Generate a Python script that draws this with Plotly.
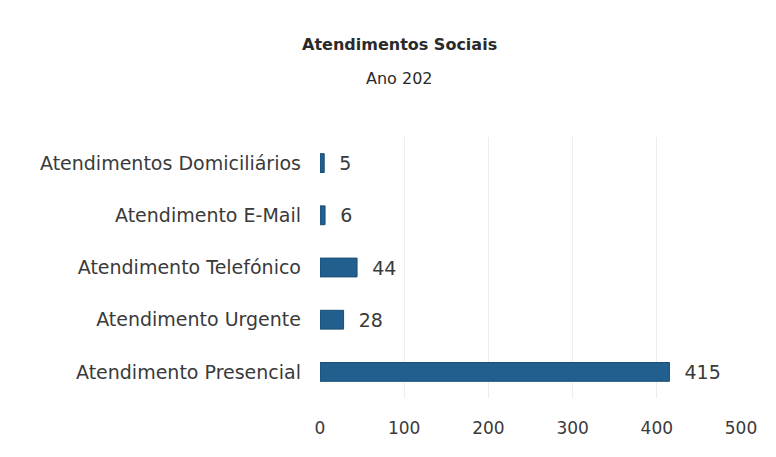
import plotly.graph_objects as go

categories = ["Atendimento Presencial", "Atendimento Urgente", "Atendimento Telefónico",
              "Atendimento E-Mail", "Atendimentos Domiciliários"]
values = [415, 28, 44, 6, 5]
x_ticks = [0, 100, 200, 300, 400, 500]

FONT = "DejaVu Sans"
TXT = "#3a3a3a"
BAR = "#21608e"

W, H = 776, 457
# page body has an 8px margin; plot area targets: x 320..741, y 137..398 on screen
L, T = 312, 129
R = W - (741 - 8)
B = H - (398 - 8)

fig = go.Figure(go.Bar(
    y=categories, x=values, orientation="h",
    marker=dict(color=BAR, line=dict(color="#1b4d72", width=1)),
    width=0.36,
    text=[str(v) for v in values], textposition="outside",
    texttemplate="\u00a0\u00a0%{x}",
    textfont=dict(family=FONT, size=19, color=TXT),
    constraintext="none",
    cliponaxis=False,
))

fig.update_layout(
    width=W, height=H,
    margin=dict(l=L, r=R, t=T, b=B),
    paper_bgcolor="white", plot_bgcolor="white",
    showlegend=False,
    xaxis=dict(range=[0, 500], tickvals=x_ticks, showgrid=True, gridcolor="#ededed",
               gridwidth=1, zeroline=False, showline=False, automargin=False,
               tickfont=dict(family=FONT, size=17, color=TXT), ticklabelstandoff=18),
    yaxis=dict(tickfont=dict(family=FONT, size=19, color=TXT), showgrid=False,
               ticklabelstandoff=18, showline=False, automargin=False),
)

pw = W - L - R
ph = H - T - B
def ann(text, px, py, size):
    # px, py are on-screen pixel targets
    fig.add_annotation(text=text, x=(px - 8 - L) / pw, y=(H - B - (py - 8)) / ph,
                       xref="paper", yref="paper", showarrow=False,
                       xanchor="center", yanchor="middle",
                       font=dict(family=FONT, size=size, color="#2a2a2a"))

ann("<b>Atendimentos Sociais</b>", 399, 45, 16)
ann("Ano 202", 399, 78, 16)
fig.write_html("out.html")
